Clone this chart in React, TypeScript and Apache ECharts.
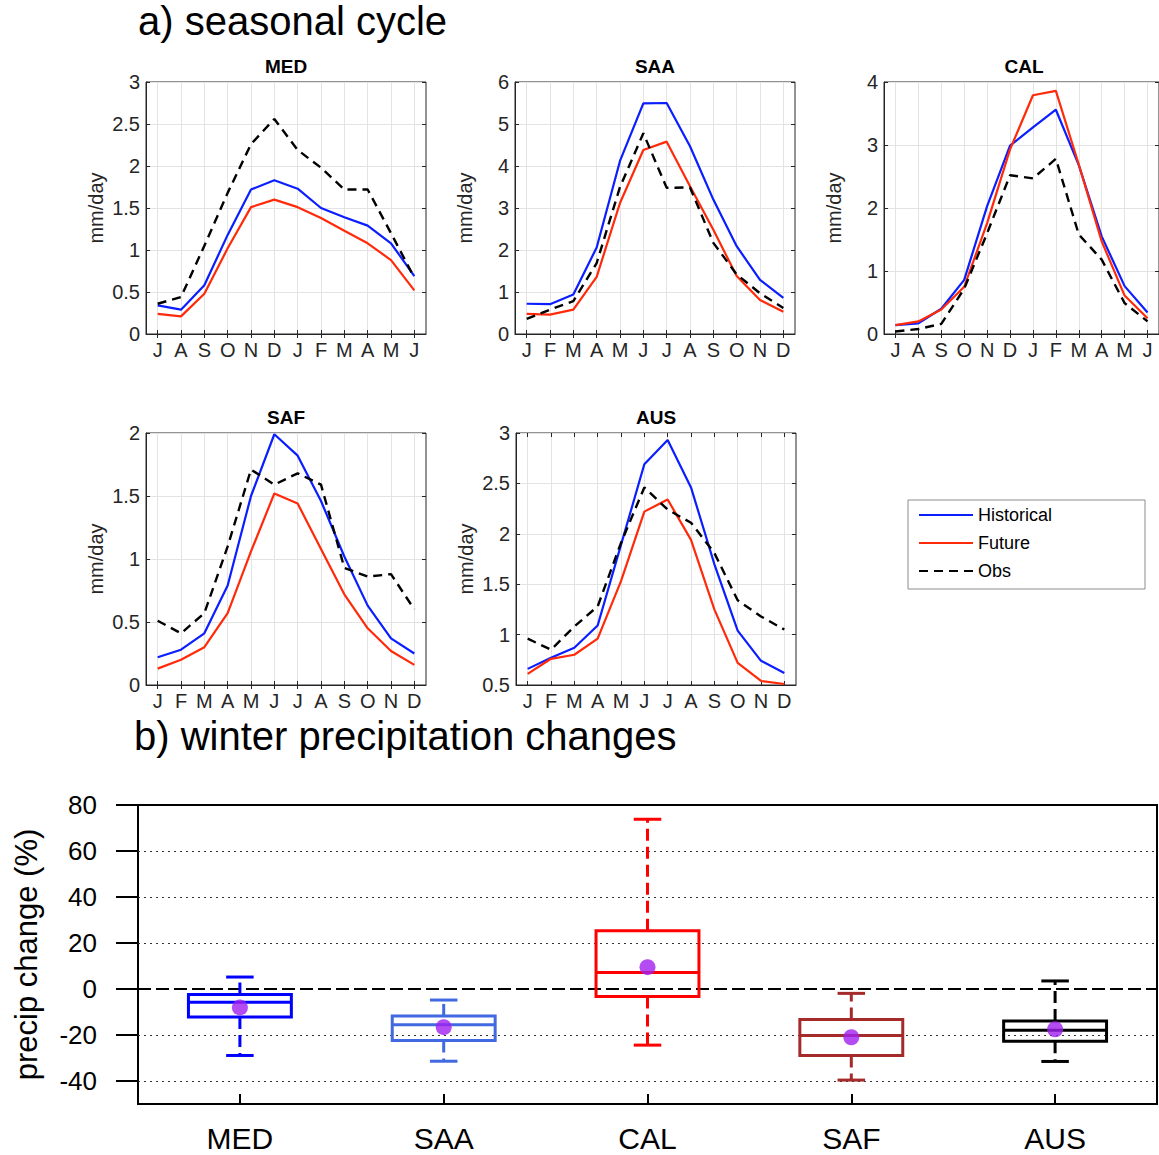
import React, { useEffect, useRef } from "react";
import * as echarts from "echarts";

// ---------- data ----------
const monthsJul = ["J", "A", "S", "O", "N", "D", "J", "F", "M", "A", "M", "J"];
const monthsJan = ["J", "F", "M", "A", "M", "J", "J", "A", "S", "O", "N", "D"];
const monthTicks = [1, 2, 3, 4, 5, 6, 7, 8, 9, 10, 11, 12];

const medHist = [0.34, 0.29, 0.58, 1.18, 1.72, 1.83, 1.73, 1.5, 1.39, 1.29, 1.08, 0.69];
const medFut = [0.24, 0.21, 0.48, 1.02, 1.51, 1.6, 1.51, 1.38, 1.23, 1.08, 0.88, 0.52];
const medObs = [0.36, 0.44, 1.05, 1.68, 2.26, 2.56, 2.19, 1.98, 1.72, 1.72, 1.2, 0.67];

const saaHist = [0.72, 0.71, 0.94, 2.06, 4.12, 5.49, 5.5, 4.47, 3.2, 2.09, 1.29, 0.86];
const saaFut = [0.48, 0.46, 0.58, 1.36, 3.12, 4.38, 4.58, 3.52, 2.48, 1.38, 0.81, 0.53];
const saaObs = [0.36, 0.58, 0.78, 1.69, 3.5, 4.78, 3.48, 3.49, 2.17, 1.42, 0.97, 0.62];

const calHist = [0.14, 0.17, 0.4, 0.86, 2.03, 2.99, 3.28, 3.56, 2.68, 1.55, 0.76, 0.34];
const calFut = [0.14, 0.2, 0.39, 0.75, 1.76, 2.93, 3.79, 3.86, 2.69, 1.47, 0.61, 0.25];
const calObs = [0.04, 0.08, 0.16, 0.72, 1.6, 2.52, 2.47, 2.78, 1.58, 1.18, 0.49, 0.2];

const safHist = [0.22, 0.28, 0.41, 0.79, 1.5, 1.99, 1.82, 1.46, 1.02, 0.63, 0.37, 0.25];
const safFut = [0.13, 0.2, 0.3, 0.57, 1.06, 1.52, 1.44, 1.08, 0.72, 0.45, 0.27, 0.16];
const safObs = [0.51, 0.41, 0.57, 1.1, 1.71, 1.59, 1.68, 1.59, 0.93, 0.86, 0.88, 0.6];

const ausHist = [0.66, 0.77, 0.87, 1.09, 1.89, 2.69, 2.93, 2.46, 1.7, 1.04, 0.74, 0.62];
const ausFut = [0.61, 0.76, 0.8, 0.96, 1.53, 2.22, 2.34, 1.94, 1.25, 0.72, 0.54, 0.51];
const ausObs = [0.96, 0.85, 1.08, 1.28, 1.91, 2.46, 2.24, 2.11, 1.81, 1.34, 1.18, 1.05];

const regions = ["MED", "SAA", "CAL", "SAF", "AUS"];
const whiskerHigh = [5.2, -4.8, 73.8, -1.9, 3.5];
const boxQ3 = [-2.4, -11.7, 25.3, -13.3, -13.9];
const boxMedian = [-5.8, -15.5, 7.2, -20.2, -17.9];
const boxQ1 = [-12.2, -22.4, -3.3, -28.9, -22.7];
const whiskerLow = [-28.9, -31.4, -24.4, -39.6, -31.5];
const ensembleMean = [-8.0, -16.6, 9.5, -21.0, -17.5];
const changeTicks = [-40, -20, 0, 20, 40, 60, 80];
const dottedLevels = [-40, -20, 20, 40, 60];

// ---------- layout / style ----------
const FONT = "'Liberation Sans', Arial, Helvetica, sans-serif";
const AX = "#262626";
const HIST_C = "#0a1eff";
const FUT_C = "#ff2a0a";
const OBS_C = "#000000";
const boxColors = ["#0000ff", "#4169e1", "#ff0000", "#a52a2a", "#000000"];

const panels = [
  { name: "MED", months: monthsJul, hist: medHist, fut: medFut, obs: medObs, ymin: 0, ymax: 3, step: 0.5 },
  { name: "SAA", months: monthsJan, hist: saaHist, fut: saaFut, obs: saaObs, ymin: 0, ymax: 6, step: 1 },
  { name: "CAL", months: monthsJul, hist: calHist, fut: calFut, obs: calObs, ymin: 0, ymax: 4, step: 1 },
  { name: "SAF", months: monthsJan, hist: safHist, fut: safFut, obs: safObs, ymin: 0, ymax: 2, step: 0.5 },
  { name: "AUS", months: monthsJan, hist: ausHist, fut: ausFut, obs: ausObs, ymin: 0.5, ymax: 3, step: 0.5 },
];
const panelPos = [
  { left: 146, top: 82 },
  { left: 515, top: 82 },
  { left: 884, top: 82 },
  { left: 146, top: 433 },
  { left: 516, top: 433 },
];
const PW = 280;
const PH = 252;

function buildOption() {
  const grid: any[] = [];
  const xAxis: any[] = [];
  const yAxis: any[] = [];
  const series: any[] = [];
  const graphic: any[] = [];

  panels.forEach((p, i) => {
    const pos = panelPos[i];
    grid.push({
      left: pos.left,
      top: pos.top,
      width: PW,
      height: PH,
      show: true,
      borderColor: AX,
      borderWidth: 1,
    });
    xAxis.push({
      type: "value",
      gridIndex: i,
      min: 0.5,
      max: 12.5,
      axisLine: { show: true, onZero: false, lineStyle: { color: AX, width: 1 } },
      axisTick: { show: true, inside: true, length: 4, customValues: monthTicks, lineStyle: { color: AX } },
      axisLabel: {
        customValues: monthTicks,
        formatter: (v: number) => p.months[Math.round(v) - 1] || "",
        fontSize: 20,
        color: AX,
        margin: 6,
        fontFamily: FONT,
      },
      splitLine: { show: true, lineStyle: { color: "#e3e3e3", width: 1 } },
    });
    xAxis.push({
      type: "value",
      gridIndex: i,
      position: "top",
      min: 0.5,
      max: 12.5,
      axisLine: { show: false },
      axisTick: { show: true, inside: true, length: 4, customValues: monthTicks, lineStyle: { color: AX } },
      axisLabel: { show: false, customValues: monthTicks },
      splitLine: { show: false },
    });
    yAxis.push({
      type: "value",
      gridIndex: i,
      min: p.ymin,
      max: p.ymax,
      interval: p.step,
      name: "mm/day",
      nameLocation: "middle",
      nameGap: 40,
      nameTextStyle: { fontSize: 20, color: AX, fontFamily: FONT },
      axisLine: { show: true, onZero: false, lineStyle: { color: AX, width: 1 } },
      axisTick: { show: true, inside: true, length: 4, lineStyle: { color: AX } },
      axisLabel: { fontSize: 20, color: AX, margin: 6, fontFamily: FONT },
      splitLine: { show: true, lineStyle: { color: "#e3e3e3", width: 1 } },
    });
    yAxis.push({
      type: "value",
      gridIndex: i,
      position: "right",
      min: p.ymin,
      max: p.ymax,
      interval: p.step,
      axisLine: { show: false },
      axisTick: { show: true, inside: true, length: 4, lineStyle: { color: AX } },
      axisLabel: { show: false },
      splitLine: { show: false },
    });
    const mk = (arr: number[]) => arr.map((v, k) => [monthTicks[k], v]);
    series.push({
      type: "line",
      name: "Historical",
      xAxisIndex: 2 * i,
      yAxisIndex: 2 * i,
      data: mk(p.hist),
      symbol: "none",
      lineStyle: { color: HIST_C, width: 2.2 },
      itemStyle: { color: HIST_C },
      z: 3,
    });
    series.push({
      type: "line",
      name: "Future",
      xAxisIndex: 2 * i,
      yAxisIndex: 2 * i,
      data: mk(p.fut),
      symbol: "none",
      lineStyle: { color: FUT_C, width: 2.2 },
      itemStyle: { color: FUT_C },
      z: 3,
    });
    series.push({
      type: "line",
      name: "Obs",
      xAxisIndex: 2 * i,
      yAxisIndex: 2 * i,
      data: mk(p.obs),
      symbol: "none",
      lineStyle: { color: OBS_C, width: 2.4, type: [9, 6] },
      itemStyle: { color: OBS_C },
      z: 4,
    });
    graphic.push({
      type: "text",
      x: pos.left + PW / 2,
      y: pos.top - 16,
      style: {
        text: p.name,
        align: "center",
        verticalAlign: "middle",
        fontSize: 19,
        fontWeight: "bold",
        fontFamily: FONT,
        fill: "#000",
      },
    });
  });

  // ---- box plot panel ----
  const bi = panels.length;
  grid.push({
    left: 138,
    top: 805,
    width: 1019,
    height: 299,
    show: true,
    borderColor: "#000",
    borderWidth: 2,
  });
  xAxis.push({
    type: "category",
    gridIndex: bi,
    data: regions,
    boundaryGap: true,
    axisLine: { show: true, onZero: false, lineStyle: { color: "#000", width: 2 } },
    axisTick: { show: true, inside: true, alignWithLabel: true, length: 10, lineStyle: { color: "#000", width: 2 } },
    axisLabel: { fontSize: 30, color: "#000", margin: 19, fontFamily: FONT },
    splitLine: { show: false },
  });
  yAxis.push({
    type: "value",
    gridIndex: bi,
    min: -50,
    max: 80,
    name: "precip change (%)",
    nameLocation: "middle",
    nameGap: 96,
    nameTextStyle: { fontSize: 31, color: "#000", fontFamily: FONT },
    axisLine: { show: true, onZero: false, lineStyle: { color: "#000", width: 2 } },
    axisTick: { show: true, inside: false, length: 22, customValues: changeTicks, lineStyle: { color: "#000", width: 2 } },
    axisLabel: { customValues: changeTicks, fontSize: 26, color: "#000", margin: 41, fontFamily: FONT },
    splitLine: { show: false },
  });

  const boxData = regions.map((_, k) => [k, whiskerLow[k], boxQ1[k], boxMedian[k], boxQ3[k], whiskerHigh[k]]);
  series.push({
    type: "custom",
    xAxisIndex: 2 * bi,
    yAxisIndex: 2 * bi,
    z: 3,
    encode: { x: 0, y: [1, 2, 3, 4, 5] },
    data: boxData,
    renderItem: (params: any, api: any) => {
      const k = api.value(0);
      const x = api.coord([k, api.value(3)])[0];
      const yLo = api.coord([k, api.value(1)])[1];
      const yQ1 = api.coord([k, api.value(2)])[1];
      const yMed = api.coord([k, api.value(3)])[1];
      const yQ3 = api.coord([k, api.value(4)])[1];
      const yHi = api.coord([k, api.value(5)])[1];
      const band = api.size([1, 0])[0];
      const bw = band * 0.505;
      const cw = band * 0.135;
      const color = boxColors[params.dataIndex];
      const solid = { stroke: color, lineWidth: 3, fill: null };
      const dashed = { stroke: color, lineWidth: 3, lineDash: [12, 6], fill: null };
      return {
        type: "group",
        children: [
          { type: "line", shape: { x1: x, y1: yQ3, x2: x, y2: yHi }, style: dashed },
          { type: "line", shape: { x1: x, y1: yQ1, x2: x, y2: yLo }, style: dashed },
          { type: "line", shape: { x1: x - cw / 2, y1: yHi, x2: x + cw / 2, y2: yHi }, style: solid },
          { type: "line", shape: { x1: x - cw / 2, y1: yLo, x2: x + cw / 2, y2: yLo }, style: solid },
          { type: "rect", shape: { x: x - bw / 2, y: yQ3, width: bw, height: yQ1 - yQ3 }, style: solid },
          { type: "line", shape: { x1: x - bw / 2, y1: yMed, x2: x + bw / 2, y2: yMed }, style: solid },
        ],
      };
    },
  });
  series.push({
    type: "scatter",
    xAxisIndex: 2 * bi,
    yAxisIndex: 2 * bi,
    z: 5,
    data: regions.map((_, k) => [k, ensembleMean[k]]),
    symbol: "circle",
    symbolSize: 16,
    itemStyle: { color: "#a020f0" },
    markLine: {
      silent: true,
      symbol: ["none", "none"],
      label: { show: false },
      z: 1,
      data: [
        ...dottedLevels.map((v) => ({ yAxis: v, lineStyle: { color: "#333", width: 1, type: [2, 4] } })),
        { yAxis: 0, lineStyle: { color: "#000", width: 2, type: [13, 5] } },
      ],
    },
  });

  graphic.push({
    type: "text",
    x: 138,
    y: 21,
    style: { text: "a) seasonal cycle", align: "left", verticalAlign: "middle", fontSize: 40, fontFamily: FONT, fill: "#000" },
  });
  graphic.push({
    type: "text",
    x: 134,
    y: 736,
    style: { text: "b) winter precipitation changes", align: "left", verticalAlign: "middle", fontSize: 40, fontFamily: FONT, fill: "#000" },
  });

  return {
    animation: false,
    backgroundColor: "#ffffff",
    textStyle: { fontFamily: FONT },
    grid,
    xAxis,
    yAxis,
    series,
    graphic,
    legend: {
      data: ["Historical", "Future", "Obs"],
      orient: "vertical",
      left: 908,
      top: 500,
      selectedMode: false,
      backgroundColor: "#fff",
      borderColor: "#8c8c8c",
      borderWidth: 1,
      borderRadius: 0,
      padding: [6, 93, 9, 10],
      itemWidth: 54,
      itemHeight: 14,
      itemGap: 10,
      itemStyle: { opacity: 0 },
      textStyle: { fontSize: 18, color: "#000", fontFamily: FONT },
    },
  };
}

export default function App() {
  const ref = useRef<HTMLDivElement>(null);
  useEffect(() => {
    document.body.style.margin = "0";
    if (!ref.current) return;
    const chart = echarts.init(ref.current, undefined, { renderer: "svg" });
    chart.setOption(buildOption() as any);
    return () => chart.dispose();
  }, []);
  return <div ref={ref} style={{ width: 1159, height: 1155 }} />;
}
